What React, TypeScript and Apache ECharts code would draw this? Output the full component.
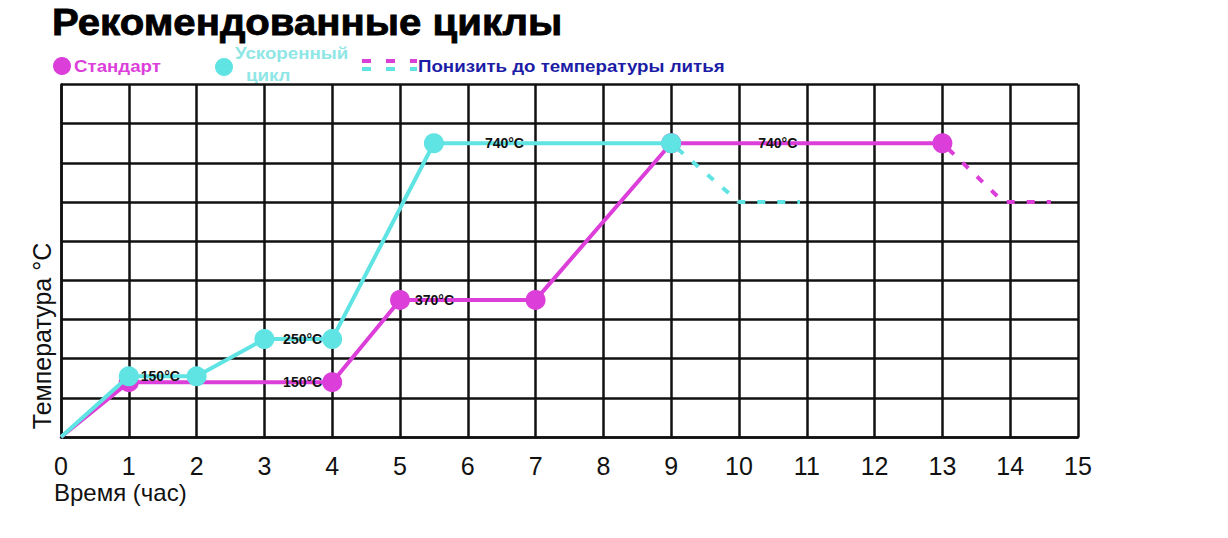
import React, { useEffect, useRef } from "react";
import * as echarts from "echarts";

const TITLE = "Рекомендованные циклы";
const Y_NAME = "Температура °C";
const X_NAME = "Время (час)";
const LEGEND_STANDARD = "Стандарт";
const LEGEND_FAST_1 = "Ускоренный";
const LEGEND_FAST_2 = "цикл";
const LEGEND_COOL = "Понизить до температуры литья";

const xTickLabels = ["0", "1", "2", "3", "4", "5", "6", "7", "8", "9", "10", "11", "12", "13", "14", "15"];

// y values are in grid-row units (chart is schematic: 9 rows)
const standardHours = [0, 1, 2, 4, 5, 7, 9, 13];
const standardLevel = [0, 1.4, 1.4, 1.4, 3.5, 3.5, 7.5, 7.5];
const standardMarker = [false, true, false, true, true, true, true, true];
const standardLabels = ["", "", "", "150°C", "370°C", "", "740°C", ""];

const fastHours = [0, 1, 2, 3, 4, 5.5, 9];
const fastLevel = [0, 1.55, 1.55, 2.5, 2.5, 7.5, 7.5];
const fastMarker = [false, true, true, true, true, true, true];
const fastLabels = ["", "150°C", "", "", "250°C", "740°C", ""];

const standardCoolHours = [13, 13.9, 14.6];
const standardCoolLevel = [7.5, 6, 6];
const fastCoolHours = [9, 10, 10.9];
const fastCoolLevel = [7.5, 6, 6];

const MAGENTA = "#dc3fd9";
const CYAN = "#5fe3e3";
const FONT = "'Liberation Sans', Arial, sans-serif";

const labelPos: Record<string, any> = {
  "s3": { position: "left", distance: 0 },
  "s4": { position: "right", distance: 5 },
  "s6": { position: "right", distance: 5, offset: [72, 0] },
  "f1": { position: "right", distance: 2 },
  "f4": { position: "left", distance: 0 },
  "f5": { position: "right", distance: 5, offset: [36, 0] },
};

function buildData(prefix: string, hours: number[], level: number[], marker: boolean[], labels: string[]) {
  return hours.map((h, i) => {
    const item: any = { value: [h, level[i]] };
    if (!marker[i]) item.symbol = "none";
    if (labels[i]) {
      item.label = {
        show: true,
        formatter: labels[i],
        color: "#111",
        fontSize: 14,
        fontWeight: "bold",
        fontFamily: FONT,
        ...labelPos[prefix + i],
      };
    }
    return item;
  });
}

const legendText = (text: string, x: number, y: number, fill: string) => ({
  type: "text",
  x,
  y,
  scaleX: 1.1,
  style: { text, fill, font: `bold 17px ${FONT}`, textAlign: "left", textVerticalAlign: "middle" },
});

export default function App() {
  const ref = useRef<HTMLDivElement>(null);
  useEffect(() => {
    document.body.style.margin = "0";
    const chart = echarts.init(ref.current!, null, { renderer: "svg" });
    const dashed = (hours: number[], level: number[], color: string, name: string) => ({
      type: "line",
      name,
      data: hours.map((h, i) => [h, level[i]]),
      symbol: "none",
      lineStyle: { color, width: 4, type: [8, 12], dashOffset: -8 },
      z: 3,
      silent: true,
    });
    chart.setOption({
      animation: false,
      backgroundColor: "#ffffff",
      grid: { left: 61, top: 84.5, right: 150, bottom: 101 },
      xAxis: {
        type: "value",
        min: 0,
        max: 15,
        interval: 1,
        axisLine: { show: true, lineStyle: { color: "#111", width: 2.5 } },
        axisTick: { show: false },
        splitLine: { show: true, lineStyle: { color: "#111", width: 2.5 } },
        axisLabel: {
          color: "#111",
          fontSize: 25,
          fontFamily: FONT,
          margin: 16,
          formatter: (v: number) => xTickLabels[Math.round(v)] ?? "",
        },
      },
      yAxis: {
        type: "value",
        min: 0,
        max: 9,
        interval: 1,
        axisLine: { show: true, lineStyle: { color: "#111", width: 2.5 } },
        axisTick: { show: false },
        axisLabel: { show: false },
        splitLine: { show: true, lineStyle: { color: "#111", width: 2.5 } },
      },
      series: [
        dashed(standardCoolHours, standardCoolLevel, MAGENTA, "cool-standard"),
        dashed(fastCoolHours, fastCoolLevel, CYAN, "cool-fast"),
        {
          type: "line",
          name: LEGEND_STANDARD,
          data: buildData("s", standardHours, standardLevel, standardMarker, standardLabels),
          symbol: "circle",
          symbolSize: 20,
          showAllSymbol: true,
          itemStyle: { color: MAGENTA },
          lineStyle: { color: MAGENTA, width: 4 },
          z: 4,
        },
        {
          type: "line",
          name: LEGEND_FAST_1,
          data: buildData("f", fastHours, fastLevel, fastMarker, fastLabels),
          symbol: "circle",
          symbolSize: 20,
          showAllSymbol: true,
          itemStyle: { color: CYAN },
          lineStyle: { color: CYAN, width: 4 },
          z: 5,
        },
      ],
      graphic: [
        {
          type: "text",
          x: 52,
          y: 22,
          scaleX: 1.085,
          style: {
            text: TITLE,
            fill: "#000",
            stroke: "#000",
            lineWidth: 0.8,
            font: `bold 37px ${FONT}`,
            textAlign: "left",
            textVerticalAlign: "middle",
          },
        },
        { type: "circle", shape: { cx: 62, cy: 66, r: 9 }, style: { fill: MAGENTA } },
        legendText(LEGEND_STANDARD, 74, 66, MAGENTA),
        { type: "circle", shape: { cx: 224, cy: 67, r: 9 }, style: { fill: CYAN } },
        legendText(LEGEND_FAST_1, 235, 53, "#8fe6e6"),
        legendText(LEGEND_FAST_2, 246, 75, "#8fe6e6"),
        { type: "rect", shape: { x: 362, y: 59, width: 9, height: 4 }, style: { fill: MAGENTA } },
        { type: "rect", shape: { x: 362, y: 67, width: 9, height: 4 }, style: { fill: CYAN } },
        { type: "rect", shape: { x: 386, y: 59, width: 9, height: 4 }, style: { fill: MAGENTA } },
        { type: "rect", shape: { x: 386, y: 67, width: 9, height: 4 }, style: { fill: CYAN } },
        { type: "rect", shape: { x: 410, y: 59, width: 7, height: 4 }, style: { fill: MAGENTA } },
        { type: "rect", shape: { x: 410, y: 67, width: 7, height: 4 }, style: { fill: CYAN } },
        legendText(LEGEND_COOL, 418, 66, "#1c1ca6"),
        {
          type: "text",
          x: 42,
          y: 336,
          rotation: Math.PI / 2,
          style: { text: Y_NAME, fill: "#111", font: `25px ${FONT}`, textAlign: "center", textVerticalAlign: "middle" },
        },
        {
          type: "text",
          x: 54,
          y: 492,
          style: { text: X_NAME, fill: "#111", font: `24px ${FONT}`, textAlign: "left", textVerticalAlign: "middle" },
        },
      ],
    });
    return () => chart.dispose();
  }, []);
  return <div ref={ref} style={{ width: 1228, height: 538 }} />;
}
